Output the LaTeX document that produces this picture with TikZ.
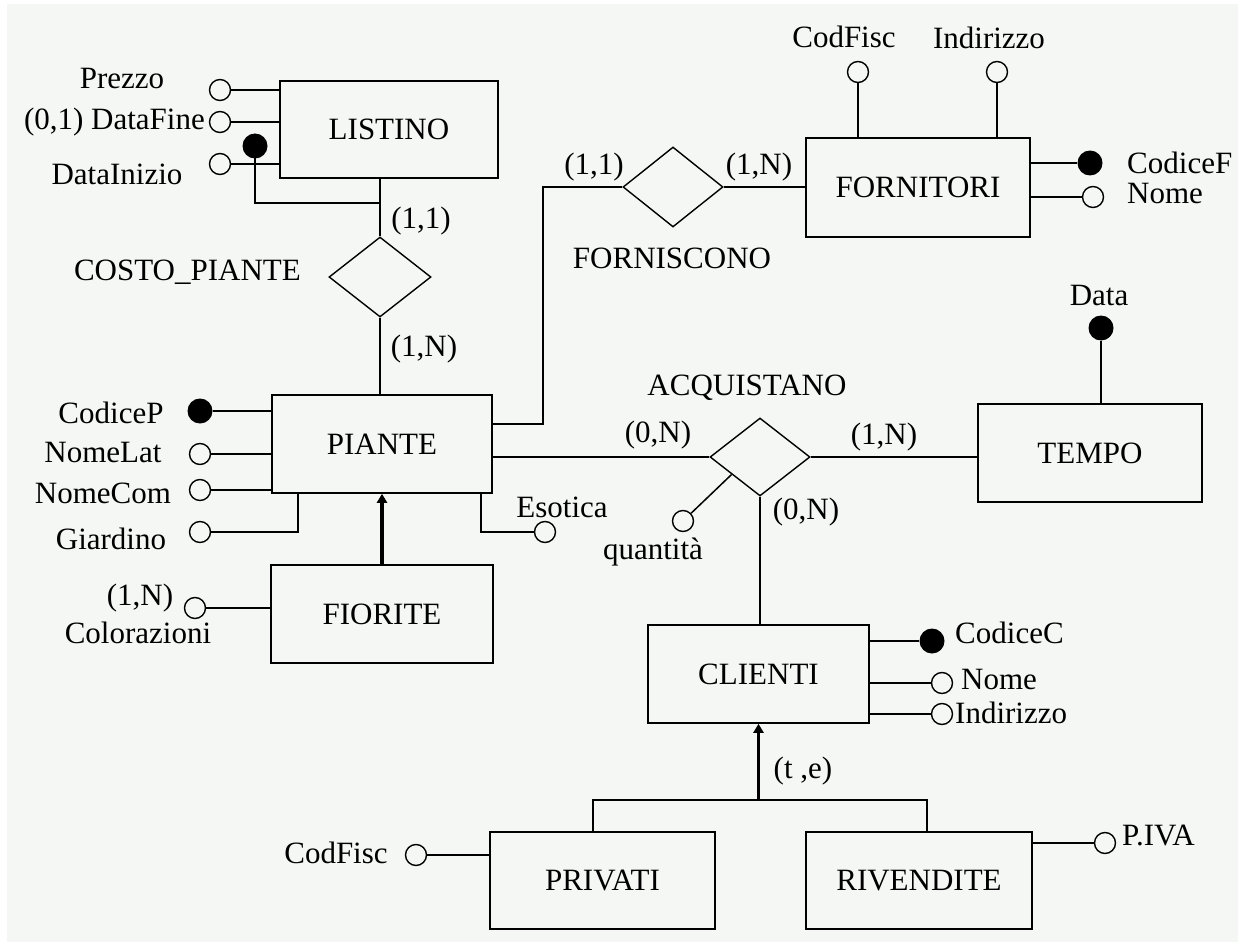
\documentclass[tikz,border=0pt]{standalone}
\usepackage{fontspec}
\setmainfont{Liberation Serif}
\usetikzlibrary{shapes.geometric,arrows.meta,calc}
\definecolor{bg}{RGB}{245,247,245}
\begin{document}
\begin{tikzpicture}[x=1pt,y=-1pt,
  every node/.style={font=\fontsize{31}{36}\selectfont},
  ln/.style={line width=1.5pt},
  ent/.style={draw,line width=1.6pt,minimum width=#1,minimum height=98pt,inner sep=0pt},
  ent/.default=220pt,
  rel/.style={draw,shape=diamond,line width=1.4pt,inner sep=0pt,minimum width=#1,minimum height=80pt},
  rel/.default=102pt,
  att/.style={draw,circle,line width=1.4pt,fill=bg,minimum size=21pt,inner sep=0pt},
  keyatt/.style={circle,fill=black,minimum size=25pt,inner sep=0pt},
  txt/.style={inner sep=0pt},
  gen/.style={line width=3.6pt,-{Triangle[length=9pt,width=10pt]}}
]
\fill[white] (0,0) rectangle (1243,947);
\fill[bg] (7,4) rectangle (1238,942);
\useasboundingbox (0,0) rectangle (1243,947);

% entities
\node[ent=218pt,minimum height=97pt] (listino) at (389,129.5) {LISTINO};
\node[ent=220pt] (piante) at (382,444) {PIANTE};
\node[ent=222pt] (fiorite) at (382,614) {FIORITE};
\node[ent=224pt,minimum height=99pt] (fornitori) at (918,187.5) {FORNITORI};
\node[ent=224pt] (tempo) at (1090,453) {TEMPO};
\node[ent=221pt] (clienti) at (758.5,674) {CLIENTI};
\node[ent=225pt,minimum height=97pt] (privati) at (602.5,880.5) {PRIVATI};
\node[ent=226pt,minimum height=97pt] (rivendite) at (919,880.5) {RIVENDITE};

% relationships
\node[rel] (costo) at (380,277) {};
\node[rel=100pt] (forn) at (673,187) {};
\node[rel=100pt,minimum height=78pt] (acq) at (760,457) {};

% LISTINO attributes
\node[att] (prezzo) at (220,90) {};
\node[att] (datafine) at (220,122) {};
\node[att] (datainizio) at (220,164) {};
\node[keyatt] (lkey) at (255,146) {};
\draw[ln] (prezzo) -- (prezzo -| listino.west);
\draw[ln] (datafine) -- (datafine -| listino.west);
\draw[ln] (datainizio) -- (datainizio -| listino.west);
\coordinate (j1) at (381,203);
\draw[ln] (lkey.center) |- (j1);
\node[txt] (tprezzo) at (122,79) {Prezzo};
\node[txt,anchor=east] (tdatafine) at (205,122) {(0,1) DataFine};
\node[txt] (tdatainizio) at (117,174) {DataInizio};

% COSTO_PIANTE
\draw[ln] (costo.north) -- (costo.north |- listino.south);
\draw[ln] (costo.south) -- (costo.south |- piante.north);
\node[txt,anchor=east] (tcosto) at (301,272) {COSTO\_PIANTE};
\node[txt] (c11) at (421,221) {(1,1)};
\node[txt] (c1n) at (424,349) {(1,N)};

% PIANTE attributes
\node[keyatt] (codicep) at (200,411) {};
\node[att] (nomelat) at (200,454) {};
\node[att] (nomecom) at (200,490) {};
\node[att] (giardino) at (200,532) {};
\node[att] (esotica) at (545,532) {};
\draw[ln] (codicep) -- (codicep -| piante.west);
\draw[ln] (nomelat) -- (nomelat -| piante.west);
\draw[ln] (nomecom) -- (nomecom -| piante.west);
\coordinate (g1) at (298,493);
\draw[ln] (giardino) -| (g1);
\coordinate (e1) at (481,493);
\draw[ln] (e1) |- (esotica);
\node[txt] (tcodicep) at (111,413) {CodiceP};
\node[txt] (tnomelat) at (103,452) {NomeLat};
\node[txt] (tnomecom) at (103,493) {NomeCom};
\node[txt] (tgiardino) at (111,539) {Giardino};
\node[txt] (tesotica) at (562,507) {Esotica};

% FIORITE
\draw[gen] (fiorite.north) -- (piante.south);
\node[att] (color) at (195,608) {};
\draw[ln] (color) -- (color -| fiorite.west);
\node[txt] (tc1n) at (140,598) {(1,N)};
\node[txt] (tcolor) at (138,633) {Colorazioni};

% FORNISCONO
\coordinate (p1) at (492,424);
\coordinate (p2) at (543,424);
\draw[ln] (p1) -- (p2) |- (forn.west);
\draw[ln] (forn.east) -- (forn.east -| fornitori.west);
\node[txt] (f11) at (594,167) {(1,1)};
\node[txt] (f1n) at (759,167) {(1,N)};
\node[txt] (tforn) at (672,258) {FORNISCONO};

% FORNITORI attributes
\node[att] (cfisc) at (858,72) {};
\node[att] (indf) at (997,72) {};
\node[keyatt] (codicef) at (1090,163) {};
\node[att] (nomef) at (1093,197) {};
\draw[ln] (cfisc) -- (cfisc |- fornitori.north);
\draw[ln] (indf) -- (indf |- fornitori.north);
\draw[ln] (codicef) -- (codicef -| fornitori.east);
\draw[ln] (nomef) -- (nomef -| fornitori.east);
\node[txt] (tcfisc) at (844,37) {CodFisc};
\node[txt] (tindf) at (989,38) {Indirizzo};
\node[txt,anchor=west] (tcodicef) at (1127,163) {CodiceF};
\node[txt,anchor=west] (tnomef) at (1127,194) {Nome};

% ACQUISTANO
\draw[ln] (acq.west) -- (acq.west -| piante.east);
\draw[ln] (acq.east) -- (acq.east -| tempo.west);
\draw[ln] (acq.south) -- (acq.south |- clienti.north);
\node[att] (quant) at (683,521) {};
\draw[ln] ($(acq.west)!0.44!(acq.south)$) -- (quant);
\node[txt] (tacq) at (747,388) {ACQUISTANO};
\node[txt] (a0n) at (658,435) {(0,N)};
\node[txt] (a0n2) at (806,512) {(0,N)};
\node[txt] (a1n) at (884,437) {(1,N)};
\node[txt,anchor=base] (tquant) at (653,559) {quantità};

% TEMPO
\node[keyatt] (data) at (1101,328) {};
\draw[ln] (data) -- (data |- tempo.north);
\node[txt] (tdata) at (1099,296) {Data};

% CLIENTI attributes
\node[keyatt] (codicec) at (932,641) {};
\node[att] (nomec) at (942,683) {};
\node[att] (indc) at (942,714) {};
\draw[ln] (codicec) -- (codicec -| clienti.east);
\draw[ln] (nomec) -- (nomec -| clienti.east);
\draw[ln] (indc) -- (indc -| clienti.east);
\node[txt,anchor=west] (tcodicec) at (955,633) {CodiceC};
\node[txt,anchor=west] (tnomec) at (961,679) {Nome};
\node[txt,anchor=west] (tindc) at (955,713) {Indirizzo};

% generalization CLIENTI
\coordinate (g2) at (758.5,800);
\coordinate (gl) at (593,800);
\coordinate (gr) at (927,800);
\draw[gen] (g2) -- (clienti.south);
\draw[ln] (privati.north -| gl) -- (gl) -- (gr) -- (rivendite.north -| gr);
\node[txt] (tte) at (803,771) {(t ,e)};

% PRIVATI / RIVENDITE attributes
\node[att] (cfp) at (416,855) {};
\node[att] (piva) at (1105,843) {};
\draw[ln] (cfp) -- (cfp -| privati.west);
\draw[ln] (piva) -- (piva -| rivendite.east);
\node[txt] (tcfp) at (336,853) {CodFisc};
\node[txt,anchor=west] (tpiva) at (1122,835) {P.IVA};
\end{tikzpicture}
\end{document}
